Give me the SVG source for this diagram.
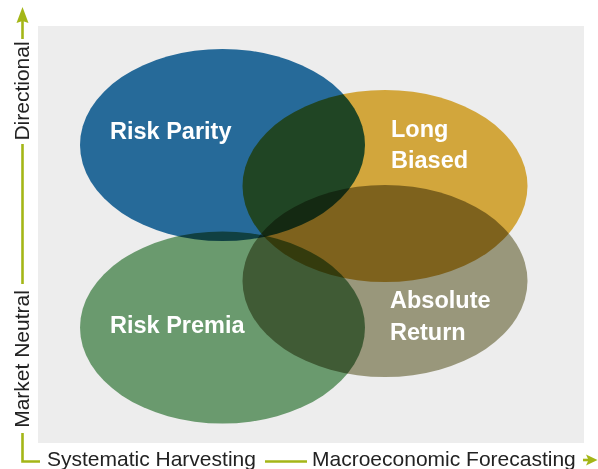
<svg xmlns="http://www.w3.org/2000/svg" width="598" height="469" viewBox="0 0 598 469">
<defs>
<style>
.ax{stroke:#a4b617;stroke-width:2.6;fill:none}
.ah{fill:#a4b617}
.lbl{font-family:"Liberation Sans",Arial,sans-serif;font-weight:bold;font-size:23.5px;fill:#ffffff}
.axl{font-family:"Liberation Sans",Arial,sans-serif;font-size:21px;fill:#222222}
.el{mix-blend-mode:multiply}
</style>
</defs>
<rect x="38" y="26" width="546" height="417" fill="#ededed"/>
<g style="isolation:isolate">
<g id="risk-parity"><ellipse class="el" cx="222.5" cy="145" rx="142.5" ry="96" fill="#266a99"/></g>
<g id="long-biased"><ellipse class="el" cx="385" cy="186" rx="142.5" ry="96" fill="#d2a63c"/></g>
<g id="risk-premia"><ellipse class="el" cx="222.5" cy="327.5" rx="142.5" ry="96" fill="#6a9a6e"/></g>
<g id="absolute-return"><ellipse class="el" cx="385" cy="281" rx="142.5" ry="96" fill="#99977b"/></g>
</g>
<g id="labels">
<text class="lbl" x="110" y="139">Risk Parity</text>
<text class="lbl" x="391" y="137">Long</text>
<text class="lbl" x="391" y="168">Biased</text>
<text class="lbl" x="110" y="333">Risk Premia</text>
<text class="lbl" x="390" y="308">Absolute</text>
<text class="lbl" x="390" y="340">Return</text>
</g>
<g id="connectors">
<line class="ax" x1="22.5" y1="20" x2="22.5" y2="39"/>
<polygon class="ah" points="22.5,7 28.5,23 22.5,21 16.5,23"/>
<line class="ax" x1="22.5" y1="144" x2="22.5" y2="284"/>
<polyline class="ax" points="22.5,433 22.5,461.5 40,461.5"/>
<line class="ax" x1="265" y1="461.5" x2="307" y2="461.5"/>
<line class="ax" x1="583" y1="460" x2="590" y2="460"/>
<polygon class="ah" points="597.5,460 586,454.5 588.5,460 586,465.5"/>
</g>
<g id="axis-labels">
<text class="axl" transform="translate(28.5,91) rotate(-90)" text-anchor="middle">Directional</text>
<text class="axl" transform="translate(28.5,359) rotate(-90)" text-anchor="middle">Market Neutral</text>
<text class="axl" x="47" y="465.5">Systematic Harvesting</text>
<text class="axl" x="312" y="465.5">Macroeconomic Forecasting</text>
</g>
</svg>
